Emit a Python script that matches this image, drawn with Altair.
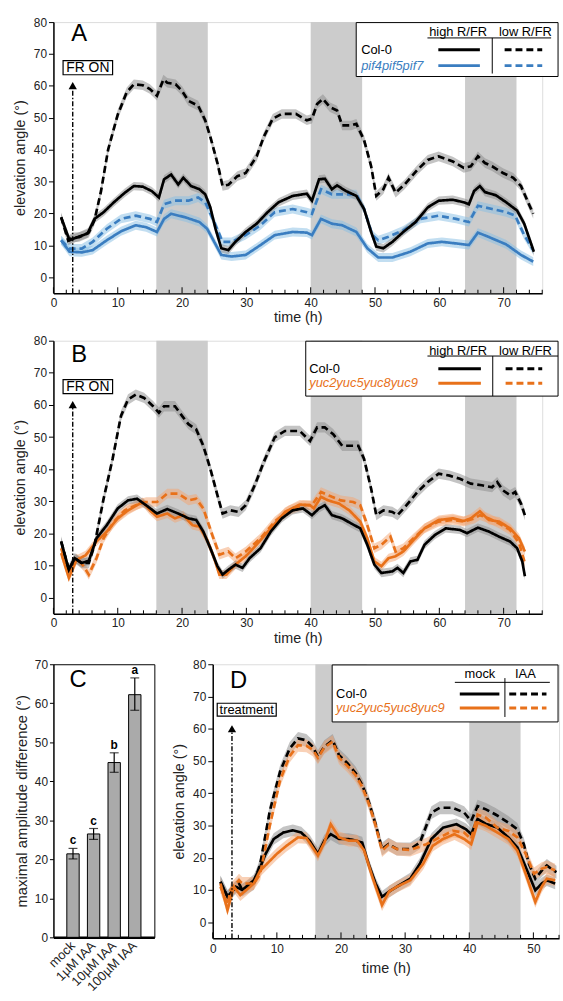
import altair as alt
import pandas as pd

FONT = "Liberation Sans"
BLACK = "#000000"
BLUE = "#3a7dc0"
ORANGE = "#e8711a"
GRAY_RIB = "#8a8a8a"
BLUE_RIB = "#86bde4"
ORANGE_RIB = "#f4a36f"
NIGHT = "#cccccc"

# ---------------- Panel A data (time h, elevation angle deg) ----------------
A_col_high_t = [1.2, 2.5, 3.9, 5.3, 6.4, 7.8, 9.4, 11.1, 12.5, 13.9, 15.3, 16.4, 17.2, 18.3, 19.4, 20.2, 21.4, 22.7, 23.6, 24.4,
                25.2, 26.1, 27.2, 28.3, 29.9, 31.6, 33.3, 35, 37.2, 39.4, 40.2, 41.3, 42.2, 43.3, 44.1, 45.5, 47.1, 48.3, 49.4, 50.2,
                51.3, 52.7, 54.4, 56.3, 58.2, 59.9, 62.1, 63.8, 64.6, 65.4, 66.3, 67.1, 68.8, 70.4, 72.1, 73.2, 74, 74.7]
A_col_high_v = [18.8, 11.6, 12.7, 13.7, 18.3, 20.4, 23.5, 26.5, 28.6, 28.4, 27, 25, 30.7, 32.2, 29.1, 31.2, 28.6, 27.6, 26, 21.9,
                15.2, 9.1, 8.5, 11.1, 14.2, 16.8, 20.4, 23.5, 25.5, 26.2, 24, 30.7, 30.9, 27.6, 28.8, 27, 25.5, 21.4, 14.2, 9.6,
                9.1, 11.1, 14.2, 17.3, 21.9, 24, 24.3, 23.5, 22.9, 27, 28.6, 26.7, 25.7, 23.5, 20.9, 16.8, 12.1, 8.0]
A_col_low_t = [1.2, 2.3, 3, 4, 5.5, 6.4, 7.4, 8.5, 10, 11.4, 12.5, 13.9, 15, 16.1, 17.1, 17.7, 19, 20, 21, 22.5,
               23.6, 24.4, 25.5, 26.3, 27.2, 28.6, 29.9, 31.6, 32.7, 34.1, 35.5, 37.7, 39.4, 40.2, 41, 41.9, 43, 44.1, 44.9, 46.3,
               47.1, 48.3, 49.4, 50.2, 51.3, 52.1, 53.2, 54.6, 56.6, 58.2, 59.9, 60.7, 62.1, 63.8, 64.9, 66, 67.1, 68.2, 69.9, 71.5,
               72.7, 73.8, 74.6]
A_col_low_v = [18.8, 11.5, 12.5, 12.6, 14, 18, 27, 40, 51, 58, 60.5, 60.2, 59, 56.9, 62, 61, 60.5, 58.4, 55.3, 53.8,
               49.2, 44, 35.8, 28.6, 29, 31.7, 32.7, 37.9, 44, 49.7, 51.2, 51.2, 49.2, 49.7, 54.3, 55.9, 53.3, 52.3, 47.6, 47.6,
               48.1, 43, 34.8, 25.5, 27.6, 31.2, 26.5, 29.1, 33.7, 36.8, 37.9, 37.3, 36.3, 34.3, 34.8, 37.9, 35.8, 34.8, 32.7, 31.2,
               28.6, 23.5, 19.9]
A_pif_high_t = [1.2, 2.5, 4.4, 6.1, 8.3, 10.5, 12.8, 14.4, 16.1, 17.2, 18.3, 20.5, 22.7, 23.9, 25, 26.1, 27.7, 29.9, 32.2, 34.4,
                37.2, 39.4, 40.2, 41.6, 43.3, 44.9, 47.1, 48.8, 50.5, 52.7, 55.5, 58.2, 60.4, 62.6, 64.6, 66, 67.6, 70.4, 72.7, 74.6]
A_pif_high_v = [11.6, 8, 7.8, 8.5, 11.6, 14.4, 16.3, 15.7, 14.2, 18.3, 19.9, 18.8, 17.3, 15.2, 11.1, 7, 6.5, 7, 10.1, 13.2,
                14.2, 14, 13.2, 18.3, 16.8, 16.3, 14.2, 9.1, 6.2, 6.2, 8, 10.6, 11.1, 10.6, 10.1, 14, 12.7, 10.3, 7, 4.9]
A_pif_low_t = [1.2, 2.5, 4.4, 6.1, 8.3, 10.5, 12.8, 15, 16.1, 17.2, 18.9, 21, 22.5, 23.6, 25, 26.3, 27.7, 29.9, 32.2, 34.4,
               37.2, 39.4, 40.2, 41.6, 43.3, 44.9, 47.1, 48.3, 49.6, 50.5, 52.1, 54.4, 57.1, 59.9, 62.6, 64.6, 66, 68.2, 70.4, 71.8,
               73.2, 74.6]
A_pif_low_v = [11.6, 9, 9, 11.1, 15.2, 18.3, 19.3, 18.3, 17.3, 22.9, 24, 24, 25, 23.5, 17.3, 11.1, 11.1, 13.2, 16.3, 20.4,
               21.4, 20.4, 19.9, 27.6, 26, 26, 26, 21.4, 13.2, 11.6, 12.7, 14.7, 18.3, 19.3, 18.3, 17.3, 22.4, 21.4, 20.4, 19.3,
               13.2, 8.5]

# ---------------- Panel B data ----------------
B_col_high_t = [1.2, 2.4, 3.3, 4.4, 5.5, 6.7, 8.3, 10, 11.6, 13, 14.4, 16.1, 17.7, 19.4, 21, 22.2, 23.3, 24.4, 25.5, 26.3,
                27.2, 28.3, 29.4, 30.5, 32.2, 33.8, 35.5, 37.2, 38.8, 40.2, 41.3, 42.2, 43.3, 44.9, 46.3, 47.7, 48.8, 49.9, 51, 52.7,
                53.5, 54.4, 55.5, 56.6, 57.7, 59.3, 61, 63.2, 64.3, 66, 67.7, 69.3, 71, 72.1, 72.9, 73.3]
B_col_high_v = [17.5, 8.7, 12.3, 10.8, 11.5, 18.5, 22.6, 27.8, 30.3, 30.8, 28.8, 26.2, 27.6, 26.2, 24.7, 24.2, 20.6, 15.4, 9.8, 7.2,
                8.7, 10.3, 9.3, 12.3, 15.4, 20.6, 24.7, 27.2, 27.8, 25.7, 27.8, 28.8, 25.7, 24.7, 23.1, 21.6, 16.5, 10.3, 7.7, 8.2,
                9.3, 7.7, 11.3, 11.8, 16.5, 19.5, 21.6, 21.1, 20.1, 21.8, 20.6, 19, 17.5, 15.4, 11.3, 6.7]
B_col_low_t = [1.2, 2.4, 3.3, 4.4, 5.5, 6.4, 7.8, 9.2, 10.5, 11.6, 12.8, 14.1, 15.5, 16.4, 17.2, 18.9, 20, 21, 22.2, 23.3,
               24.4, 25.5, 26.3, 27.5, 28.8, 29.9, 31.3, 32.7, 34.4, 36, 38.3, 39.9, 41, 42.2, 43.5, 44.9, 46, 47.4, 48.3, 49.4,
               50.2, 51.3, 52.7, 53.5, 54.9, 56.6, 58.2, 59.9, 61.6, 63.2, 64.9, 66.6, 68.2, 69, 69.9, 71, 71.8, 72.7, 73.3]
B_col_low_v = [17.5, 8.7, 12.3, 10.8, 10.8, 16.5, 30.8, 43.2, 56.6, 61.7, 63.2, 62.2, 59.6, 57.6, 59.6, 59.6, 56.6, 54, 52.4, 47.3,
               40.1, 31.9, 26.2, 27.2, 26.7, 28.8, 35, 42.2, 49.9, 51.9, 51.9, 48.8, 53, 53, 50.9, 47.3, 47.3, 47.3, 43.2, 33.9,
               25.7, 27.2, 26.7, 25.7, 28.8, 32.9, 36, 38.6, 38, 37, 35.5, 35, 34.4, 36, 33.4, 31.9, 32.9, 29.3, 25.7]
B_yuc_high_t = [1.2, 2.4, 3.6, 5, 6.7, 8.3, 10, 11.6, 13.9, 15, 16.1, 17.7, 18.9, 20.2, 21.6, 22.7, 23.9, 25, 25.8, 26.9,
                28.3, 29.9, 31.6, 33.8, 36, 38.3, 39.9, 40.5, 41.6, 42.7, 44.4, 46, 47.7, 48.8, 49.9, 51, 52.1, 53.2, 54.4, 56,
                57.7, 59.9, 62.1, 63.8, 64.9, 66.3, 67.7, 69.3, 71, 72.4, 73.3]
B_yuc_high_v = [13.9, 6.2, 11.8, 13.2, 17.5, 20.6, 24.7, 27.2, 29.8, 27.2, 25.2, 26.2, 24.7, 25.7, 22.6, 22.1, 18, 12.3, 7.2, 7.2,
                10.3, 12.9, 16.5, 21.6, 26.7, 29, 28.8, 27.8, 31.4, 30.3, 29.3, 27.2, 23.7, 18.5, 11.3, 9.8, 12.3, 12.9, 14.4, 18,
                21.6, 24.2, 24.7, 23.9, 24.7, 26.9, 24.2, 23.7, 21.6, 18.5, 14.4]
B_yuc_low_t = [1.2, 2.4, 3.6, 4.7, 5.5, 6.7, 7.8, 9.4, 11.1, 12.8, 14.4, 16.1, 17.7, 19.4, 21, 22.2, 23.3, 24.7, 25.8, 27.2,
               28.3, 29.9, 32.2, 34.4, 36.6, 38.8, 40.2, 41.6, 43.3, 44.7, 46.6, 47.7, 48.8, 49.9, 51, 52.4, 53.2, 54.4, 56, 57.7,
               59.9, 62.1, 63.8, 65.5, 66.3, 67.7, 69.3, 71, 72.4, 73.3]
B_yuc_low_v = [15.4, 8.2, 12.3, 9.8, 7.2, 12.3, 18.5, 23.7, 27.2, 28.8, 29.8, 29.8, 32.4, 32.4, 30.3, 30.8, 27.8, 19.5, 13.4, 14.4,
               12.3, 14.4, 18.5, 23.7, 27.2, 28.8, 28.8, 32.9, 31.4, 30.3, 29.8, 28.8, 22.6, 15.4, 16.5, 19, 14.4, 15.4, 18.5, 21.6,
               23.7, 24.2, 23.7, 24.7, 25.7, 24.7, 23.1, 21.1, 17, 10.8]

# ---------------- Panel C data ----------------
C_cond = ["mock", "1µM IAA", "10µM IAA", "100µM IAA"]
C_mean = [21.4, 26.5, 44.8, 62.2]
C_low = [20.1, 25.1, 42.3, 58.2]
C_high = [22.8, 27.9, 47.3, 66.5]
C_letters = ["c", "c", "b", "a"]

# ---------------- Panel D data ----------------
D_col_mock_t = [1.2, 2.3, 3.6, 4.6, 6.4, 7.4, 8.2, 9.5, 11, 12.5, 13.8, 15.1, 16.4, 17.4, 18.4, 19.7, 21.2, 22.3, 23.3, 24.3,
                25.4, 26.4, 27.5, 28.7, 30.8, 32.3, 34.1, 35.9, 38, 39.5, 40.3, 41.3, 42.6, 44.4, 46.1, 47.5, 48.8, 50.3, 51.3, 52.1,
                53.4]
D_col_mock_v = [12.5, 7.9, 11, 10, 13, 17, 21, 25.8, 27.8, 28.5, 27.8, 25.3, 21.2, 25.3, 27.3, 25.8, 25.8, 25.3, 24.7, 18.1,
                12, 7.9, 9.5, 11, 13.5, 18.1, 25.8, 29.3, 30.4, 28.8, 27.3, 32, 30.5, 29.3, 26.3, 23.2, 17.1, 9.9, 12, 13,
                12]
D_yuc_mock_t = [1.2, 2.3, 3.3, 4.3, 6.4, 7.4, 10, 11.5, 13.3, 14.6, 16.4, 17.4, 18.4, 19.7, 21.2, 22.5, 23.6, 24.9, 26.4, 27.5,
                28.7, 30.8, 32.8, 34.3, 35.9, 37.7, 39.2, 40.3, 41.3, 42.6, 44.4, 46.1, 47.5, 48.8, 50.3, 51.3, 52.1, 53.4]
D_yuc_mock_v = [12, 3.8, 11, 8.4, 12, 16, 21.2, 23.7, 26.3, 26.1, 20.7, 24.7, 30.4, 26.3, 25.3, 25.3, 22.3, 14, 5.3, 9.5,
                11, 13, 18.1, 23.7, 25.8, 27.3, 25.8, 24.2, 30.9, 29.9, 27.8, 25.8, 22.2, 15, 6.3, 11, 13.5, 13]
D_col_iaa_t = [1.2, 2.3, 2.8, 4.1, 4.6, 6.4, 7.4, 8.9, 10.5, 12, 13.3, 14.6, 15.6, 16.4, 17.4, 18.7, 19.7, 21, 22.3, 23.3,
               24.3, 25.4, 26.4, 27.4, 28.7, 30.8, 32.3, 34.1, 35.4, 37.4, 39.2, 40.3, 41.3, 42.6, 44.1, 46.1, 47.5, 48.5, 49.3, 50.3,
               51.3, 52.1, 53.1, 53.6]
D_col_iaa_v = [12.5, 8, 9, 12, 10, 12, 18, 34.5, 46.7, 53.9, 57, 56.4, 54.4, 51.3, 54.4, 56.4, 51.8, 49.3, 46.2, 42.6,
               37.5, 30.4, 22.7, 24.2, 22.7, 22.7, 24.7, 34, 35.5, 35.5, 34, 31.4, 36, 35, 33.4, 30.9, 28.8, 24.2, 18.1, 13.5,
               16, 17.6, 16.1, 15.5]
D_yuc_iaa_t = [1.2, 2.3, 2.8, 4.1, 4.6, 6.4, 7.4, 8.9, 10.5, 12, 13.3, 14.6, 15.6, 16.4, 17.4, 18.7, 19.7, 21, 22.3, 23.3,
               24.3, 25.4, 26.4, 27.4, 28.7, 30.8, 33.3, 35.4, 37.4, 39.2, 40.3, 41.3, 42.6, 44.4, 46.1, 47.5, 48.8, 50.1, 51.3, 52.1,
               53.4]
D_yuc_iaa_v = [11, 5.5, 10, 13, 12, 12, 15, 30, 44, 51.5, 54.9, 54.7, 53.5, 51, 54.2, 56, 51, 48.5, 45.5, 42,
               37, 30, 22.2, 24, 22.7, 22.4, 24.2, 26.3, 28.3, 27.8, 25.8, 33.4, 32.4, 29.3, 28.3, 26.3, 21.2, 15, 16.6, 17.1,
               16.1]

# standard errors (half-width of shaded ribbons), per series
SE_A = {"col_high": 1.3, "col_low": 1.5, "pif_high": 1.4, "pif_low": 1.4}
SE_B = {"col_high": 1.3, "col_low": 1.6, "yuc_high": 1.4, "yuc_low": 1.5}
SE_D = {"col_mock": 1.8, "col_iaa": 2.0, "yuc_mock": 1.8, "yuc_iaa": 2.0}

NIGHTS_AB_start = [16, 40, 64]
NIGHTS_AB_end = [24, 48, 72]
NIGHTS_D_start = [16, 40]
NIGHTS_D_end = [24, 48]


def series_df(items):
    rows = []
    for name, ts, vs, se in items:
        assert len(ts) == len(vs), name
        for t, v in zip(ts, vs):
            rows.append({"series": name, "t": t, "v": v, "lo": v - se, "hi": v + se})
    return pd.DataFrame(rows)


ONE = pd.DataFrame({"k": [0]})


def txt(x, y, s, size=13, color=BLACK, align="left", style="normal", weight="normal"):
    return alt.Chart(ONE).mark_text(font=FONT, fontSize=size, color=color, align=align, baseline="middle",
                                    fontStyle=style, fontWeight=weight).encode(
        x=alt.value(x), y=alt.value(y), text=alt.value(s))


def hrule(x1, x2, y, color=BLACK, width=1.0, dash=None):
    kw = dict(color=color, strokeWidth=width)
    if dash:
        kw["strokeDash"] = dash
    return alt.Chart(ONE).mark_rule(**kw).encode(x=alt.value(x1), x2=alt.value(x2), y=alt.value(y))


def vrule(x, y1, y2, color=BLACK, width=1.0, opacity=1.0):
    return alt.Chart(ONE).mark_rule(color=color, strokeWidth=width, strokeOpacity=opacity).encode(
        x=alt.value(x), y=alt.value(y1), y2=alt.value(y2))


def box(x1, x2, y1, y2):
    return alt.Chart(ONE).mark_rect(fill="white", stroke=BLACK, strokeWidth=1).encode(
        x=alt.value(x1), x2=alt.value(x2), y=alt.value(y1), y2=alt.value(y2))


DASH = [7, 4]


def time_panel(df, names, line_colors, dashes, rib_colors, x_max, width, height, nights_s, nights_e,
               annot, legend_layers, letter, letter_xy, lab_pad=4, title_pad=3):
    xs = alt.Scale(domain=[0, x_max], nice=False, zero=False)
    ys = alt.Scale(domain=[-5, 80], nice=False, zero=False)
    xaxis = alt.Axis(title="time (h)", values=list(range(0, int(x_max) + 1, 10)), ticks=False, tickSize=0,
                     labelPadding=lab_pad, titlePadding=title_pad, grid=False, domainColor=BLACK, domainWidth=1.5,
                     labelFont=FONT, labelFontSize=12, labelColor="#222", titleFont=FONT, titleFontSize=14.5,
                     titleFontWeight="normal", titleColor="#222", labelFlush=False)
    yaxis = alt.Axis(title="elevation angle (°)", values=list(range(0, 81, 10)), tickSize=5, tickColor=BLACK,
                     labelPadding=2, titlePadding=6, grid=False, domainColor=BLACK, domainWidth=1.5,
                     labelFont=FONT, labelFontSize=12, labelColor="#222", titleFont=FONT, titleFontSize=14.5,
                     titleFontWeight="normal", titleColor="#222", labelFlush=False)

    def X(f):
        return alt.X(f, type="quantitative", scale=xs, axis=xaxis)

    def Y(f):
        return alt.Y(f, type="quantitative", scale=ys, axis=yaxis)

    nd = pd.DataFrame({"s": nights_s, "e": nights_e})
    bands = alt.Chart(nd).mark_rect(color=NIGHT).encode(x=X("s"), x2=alt.X2("e"),
                                                        y=alt.value(0), y2=alt.value(height))
    ribs = alt.Chart(df).mark_area(opacity=0.5, interpolate="linear").encode(
        x=X("t"), y=Y("lo"), y2=alt.Y2("hi"),
        fill=alt.Fill("series:N", scale=alt.Scale(domain=names, range=rib_colors), legend=None),
        detail="series:N")
    lines = alt.Chart(df).mark_line(strokeWidth=2.7, strokeCap="butt").encode(
        x=X("t"), y=Y("v"),
        stroke=alt.Stroke("series:N", scale=alt.Scale(domain=names, range=line_colors), legend=None),
        strokeDash=alt.StrokeDash("series:N", scale=alt.Scale(domain=names, range=dashes), legend=None),
        order=alt.Order("t:Q"))
    major = pd.DataFrame({"t": list(range(0, int(x_max) + 1, 10))})
    minor = pd.DataFrame({"t": [m for m in range(0, int(x_max) + 1, 2) if m % 10]})
    tmaj = alt.Chart(major).mark_rule(color=BLACK, strokeWidth=1).encode(
        x=X("t"), y=alt.value(height), y2=alt.value(height - 6))
    tmin = alt.Chart(minor).mark_rule(color=BLACK, strokeWidth=1).encode(
        x=X("t"), y=alt.value(height), y2=alt.value(height - 3.5))

    ad = pd.DataFrame({"t": [annot["t"]], "v0": [-5], "v1": [annot["tip"] - 1.6]})
    arrow = alt.Chart(ad).mark_rule(color=BLACK, strokeWidth=1.4, strokeDash=[5, 2, 1.5, 2]).encode(
        x=X("t"), y=Y("v0"), y2=alt.Y2("v1"))
    head = alt.Chart(ad).mark_point(shape="triangle-up", filled=True, size=70, color=BLACK, opacity=1).encode(
        x=X("t"), y=Y("v1"))
    bd = pd.DataFrame({"x0": [annot["x0"]], "x1": [annot["x1"]], "y0": [annot["y0"]], "y1": [annot["y1"]],
                       "tx": [(annot["x0"] + annot["x1"]) / 2], "ty": [(annot["y0"] + annot["y1"]) / 2],
                       "lab": [annot["label"]]})
    abox = alt.Chart(bd).mark_rect(fill="white", stroke=BLACK, strokeWidth=1.2).encode(
        x=X("x0"), x2=alt.X2("x1"), y=Y("y0"), y2=alt.Y2("y1"))
    atext = alt.Chart(bd).mark_text(font=FONT, fontSize=annot["size"], color=BLACK, baseline="middle").encode(
        x=X("tx"), y=Y("ty"), text="lab:N")
    let = txt(letter_xy[0], letter_xy[1], letter, size=24, align="center")
    return alt.layer(bands, ribs, lines, tmaj, tmin, arrow, head, abox, atext, *legend_layers, let).properties(
        width=width, height=height)


# ---------------- Panel A ----------------
dfA = series_df([
    ("pif_high", A_pif_high_t, A_pif_high_v, SE_A["pif_high"]),
    ("pif_low", A_pif_low_t, A_pif_low_v, SE_A["pif_low"]),
    ("col_high", A_col_high_t, A_col_high_v, SE_A["col_high"]),
    ("col_low", A_col_low_t, A_col_low_v, SE_A["col_low"]),
])
namesA = ["pif_high", "pif_low", "col_high", "col_low"]
legA = [
    box(306, 510, 0.5, 55),
    txt(409, 10.5, "high R/FR", align="center"),
    txt(477, 10.5, "low R/FR", align="center"),
    hrule(378, 503, 16),
    vrule(443.5, 16, 52),
    txt(311, 28, "Col-0"),
    txt(311, 44, "pif4pif5pif7", color=BLUE, style="italic"),
    hrule(389, 431, 28, BLACK, 3),
    hrule(389, 431, 44, BLUE, 3),
    hrule(456, 494, 28, BLACK, 3, [7, 4]),
    hrule(456, 494, 44, BLUE, 3, [7, 4]),
]
annotAB = {"t": 3, "tip": 61.7, "x0": 1.5, "x1": 9.2, "y0": 63.5, "y1": 67.9, "label": "FR ON", "size": 14}
A = time_panel(dfA, namesA, [BLUE, BLUE, BLACK, BLACK], [[1, 0], DASH, [1, 0], DASH],
               [BLUE_RIB, BLUE_RIB, GRAY_RIB, GRAY_RIB], 76, 494, 274, NIGHTS_AB_start, NIGHTS_AB_end,
               annotAB, legA, "A", (26, 12))

# ---------------- Panel B ----------------
dfB = series_df([
    ("yuc_high", B_yuc_high_t, B_yuc_high_v, SE_B["yuc_high"]),
    ("yuc_low", B_yuc_low_t, B_yuc_low_v, SE_B["yuc_low"]),
    ("colB_high", B_col_high_t, B_col_high_v, SE_B["col_high"]),
    ("colB_low", B_col_low_t, B_col_low_v, SE_B["col_low"]),
])
namesB = ["yuc_high", "yuc_low", "colB_high", "colB_low"]
legB = [
    box(255, 510, 0.5, 56),
    txt(409, 10, "high R/FR", align="center"),
    txt(477, 10, "low R/FR", align="center"),
    hrule(378, 510, 15.5),
    vrule(444, 15.5, 56),
    txt(258.5, 28.4, "Col-0"),
    txt(258.5, 43, "yuc2yuc5yuc8yuc9", color=ORANGE, style="italic"),
    hrule(389, 432, 28.4, BLACK, 3),
    hrule(389, 432, 43, ORANGE, 3),
    hrule(457, 494, 28.4, BLACK, 3, [7, 4]),
    hrule(457, 494, 43, ORANGE, 3, [7, 4]),
]
B = time_panel(dfB, namesB, [ORANGE, ORANGE, BLACK, BLACK], [[1, 0], DASH, [1, 0], DASH],
               [ORANGE_RIB, ORANGE_RIB, GRAY_RIB, GRAY_RIB], 76, 494, 276, NIGHTS_AB_start, NIGHTS_AB_end,
               annotAB, legB, "B", (26, 15))

# ---------------- Panel D ----------------
dfD = series_df([
    ("colD_mock", D_col_mock_t, D_col_mock_v, SE_D["col_mock"]),
    ("colD_iaa", D_col_iaa_t, D_col_iaa_v, SE_D["col_iaa"]),
    ("yucD_mock", D_yuc_mock_t, D_yuc_mock_v, SE_D["yuc_mock"]),
    ("yucD_iaa", D_yuc_iaa_t, D_yuc_iaa_v, SE_D["yuc_iaa"]),
])
namesD = ["colD_mock", "colD_iaa", "yucD_mock", "yucD_iaa"]
legD = [
    vrule(0, -9, 0, opacity=0.0),
    box(120.7, 349, 0.7, 58.3),
    txt(270, 10, "mock", align="center"),
    txt(316, 10, "IAA", align="center"),
    hrule(244.7, 340.7, 18.3),
    vrule(295.3, 14, 53.3),
    txt(124.7, 30, "Col-0"),
    txt(124.7, 44.3, "yuc2yuc5yuc8yuc9", color=ORANGE, style="italic"),
    hrule(249.7, 289.7, 30, BLACK, 3),
    hrule(249.7, 289.7, 44.3, ORANGE, 3),
    hrule(299.7, 337.3, 30, BLACK, 3, [7, 4]),
    hrule(299.7, 337.3, 44.3, ORANGE, 3, [7, 4]),
]
annotD = {"t": 3, "tip": 61.6, "x0": 0.7, "x1": 9.9, "y0": 63.9, "y1": 67.9, "label": "treatment", "size": 13}
D = time_panel(dfD, namesD, [BLACK, BLACK, ORANGE, ORANGE], [[1, 0], DASH, [1, 0], DASH],
               [GRAY_RIB, GRAY_RIB, ORANGE_RIB, ORANGE_RIB], 54, 350, 277, NIGHTS_D_start, NIGHTS_D_end,
               annotD, legD, "D", (26, 16.5), lab_pad=5, title_pad=8)

# ---------------- Panel C ----------------
cdf = pd.DataFrame({"cond": C_cond, "mean": C_mean, "lo": C_low, "hi": C_high, "letter": C_letters})
cx = alt.X("cond:N", sort=C_cond, scale=alt.Scale(paddingInner=0.4, paddingOuter=0.65),
           axis=alt.Axis(title=None, labelAngle=-45, labelAlign="right", labelBaseline="middle", ticks=False,
                         tickSize=0, labelPadding=6, domainColor=BLACK, domainWidth=2.5, labelFont=FONT,
                         labelFontSize=13, labelColor="#222"))
cys = alt.Scale(domain=[0, 70], nice=False, zero=True)
cyax = alt.Axis(title="maximal amplitude difference (°)", values=list(range(0, 71, 10)), tickSize=4,
                tickColor=BLACK, labelPadding=2, titlePadding=5, grid=False, domainColor=BLACK, domainWidth=1,
                labelFont=FONT, labelFontSize=12, labelColor="#222", titleFont=FONT, titleFontSize=15,
                titleFontWeight="normal", titleColor="#222")


def CY(f):
    return alt.Y(f, type="quantitative", scale=cys, axis=cyax)


cbars = alt.Chart(cdf).mark_bar(fill="#aaaaaa", stroke=BLACK, strokeWidth=1).encode(x=cx, y=CY("mean"))
cerr = alt.Chart(cdf).mark_rule(color=BLACK, strokeWidth=1.2).encode(x=cx, y=CY("lo"), y2=alt.Y2("hi"))
ccap1 = alt.Chart(cdf).mark_tick(color=BLACK, thickness=1.2, size=9).encode(x=cx, y=CY("lo"))
ccap2 = alt.Chart(cdf).mark_tick(color=BLACK, thickness=1.2, size=9).encode(x=cx, y=CY("hi"))
clet = alt.Chart(cdf).mark_text(font=FONT, fontSize=12, fontWeight="bold", dy=-8, color=BLACK).encode(
    x=cx, y=CY("hi"), text="letter:N")
C = alt.layer(cbars, cerr, ccap1, ccap2, clet, txt(25, 16, "C", size=24, align="center")).properties(
    width=102, height=276, view=alt.ViewBackground(stroke=BLACK, strokeWidth=1))

indep = dict(stroke="independent", fill="independent", strokeDash="independent")
bottom = alt.hconcat(C, D, spacing=16).resolve_scale(**indep)
chart = alt.vconcat(A, B, bottom, spacing=9).resolve_scale(**indep).properties(
    padding={"left": 12, "top": 10, "right": 0, "bottom": 0}
).configure_view(stroke=None).configure(font=FONT)

chart.save("out.html", embed_options={"renderer": "svg", "actions": False})
